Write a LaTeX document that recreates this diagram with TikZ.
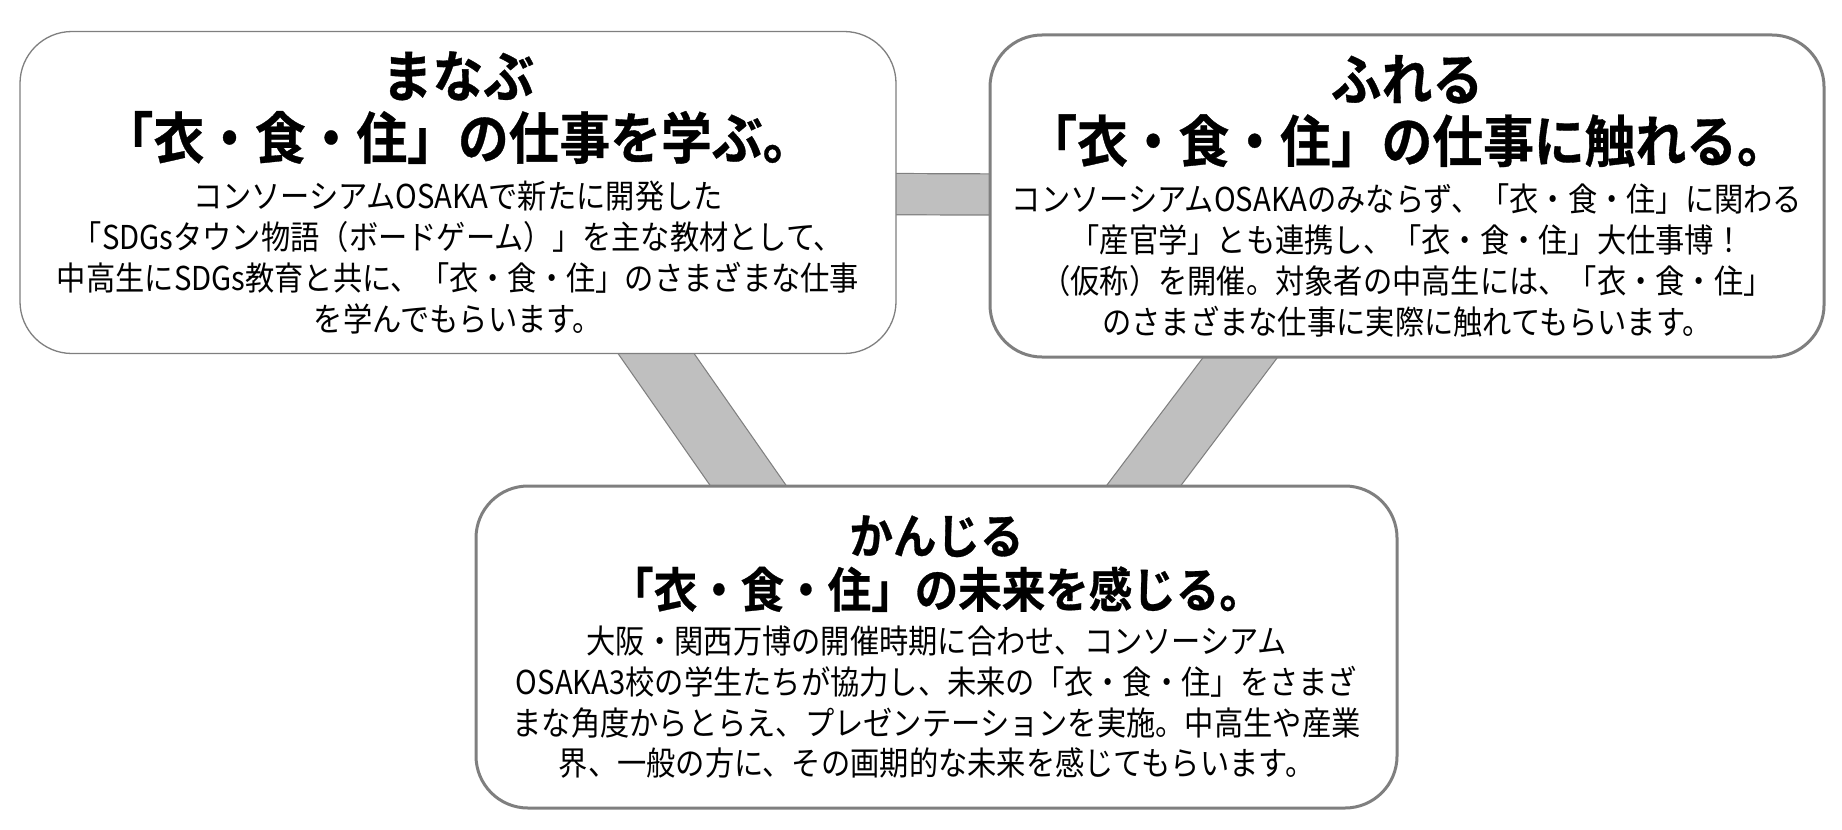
\documentclass[tikz,border=0pt]{standalone}
\usepackage{fontspec}
\usetikzlibrary{backgrounds}

\newfontfamily\jptitle[FakeStretch=0.91,BoldFont={* Bold},BoldFeatures={FakeBold=0.6}]{Noto Sans CJK JP}
\newfontfamily\jpbody[FakeStretch=0.89]{Noto Sans CJK JP}
\definecolor{boxgray}{RGB}{127,127,127}
\definecolor{barfill}{RGB}{191,191,191}

\begin{document}
\begin{tikzpicture}[x=1bp, y=-1bp, node distance=949bp,
  block/.style={rectangle, draw=boxgray, fill=white, rounded corners=52bp, align=center, inner sep=8bp, minimum height=322bp},
  link/.style={draw=boxgray, line width=1.2bp, double=barfill, double distance=#1, shorten <=-30bp, shorten >=-30bp}]

  \useasboundingbox (0,0) rectangle (1842,830);

  \node [block, line width=1.3bp, text width=860bp] (manabu) at (458,192.5) {%
    {\jptitle\bfseries\fontsize{56}{62}\selectfont まなぶ\\「衣・食・住」の仕事を学ぶ。\par}%
    \vspace{9bp}%
    {\jpbody\fontsize{33}{41}\selectfont コンソーシアムOSAKAで新たに開発した\\%
    「SDGsタウン物語（ボードゲーム）」を主な教材として、\\%
    中高生にSDGs教育と共に、「衣・食・住」のさまざまな仕事\\%
    を学んでもらいます。\par}};
  \node [block, line width=3bp, text width=818bp, right of=manabu, yshift=-3.5bp] (fureru) {%
    {\jptitle\bfseries\fontsize{56}{62}\selectfont ふれる\\「衣・食・住」の仕事に触れる。\par}%
    \vspace{9bp}%
    {\jpbody\fontsize{33}{41}\selectfont コンソーシアムOSAKAのみならず、「衣・食・住」に関わる\\%
    「産官学」とも連携し、「衣・食・住」大仕事博！\\%
    （仮称）を開催。対象者の中高生には、「衣・食・住」\\%
    のさまざまな仕事に実際に触れてもらいます。\par}};
  \node [block, line width=3bp, text width=905bp, right of=manabu, node distance=478.5bp, yshift=-454.5bp] (kanjiru) {%
    {\jptitle\bfseries\fontsize{48}{54}\selectfont かんじる\\「衣・食・住」の未来を感じる。\par}%
    \vspace{5bp}%
    {\jpbody\fontsize{33}{41}\selectfont 大阪・関西万博の開催時期に合わせ、コンソーシアム\\%
    OSAKA3校の学生たちが協力し、未来の「衣・食・住」をさまざ\\%
    まな角度からとらえ、プレゼンテーションを実施。中高生や産業\\%
    界、一般の方に、その画期的な未来を感じてもらいます。\par}};

  % Grey bars behind the boxes
  \begin{scope}[on background layer]
    \path [link=40bp] (manabu) -- (fureru);
    \path [link=61bp] ([xshift=198.5bp]manabu.south) -- ([xshift=-189bp]kanjiru.north);
    \path [link=58bp] ([xshift=-167.5bp]fureru.south) -- ([xshift=208bp]kanjiru.north);
  \end{scope}
\end{tikzpicture}
\end{document}
